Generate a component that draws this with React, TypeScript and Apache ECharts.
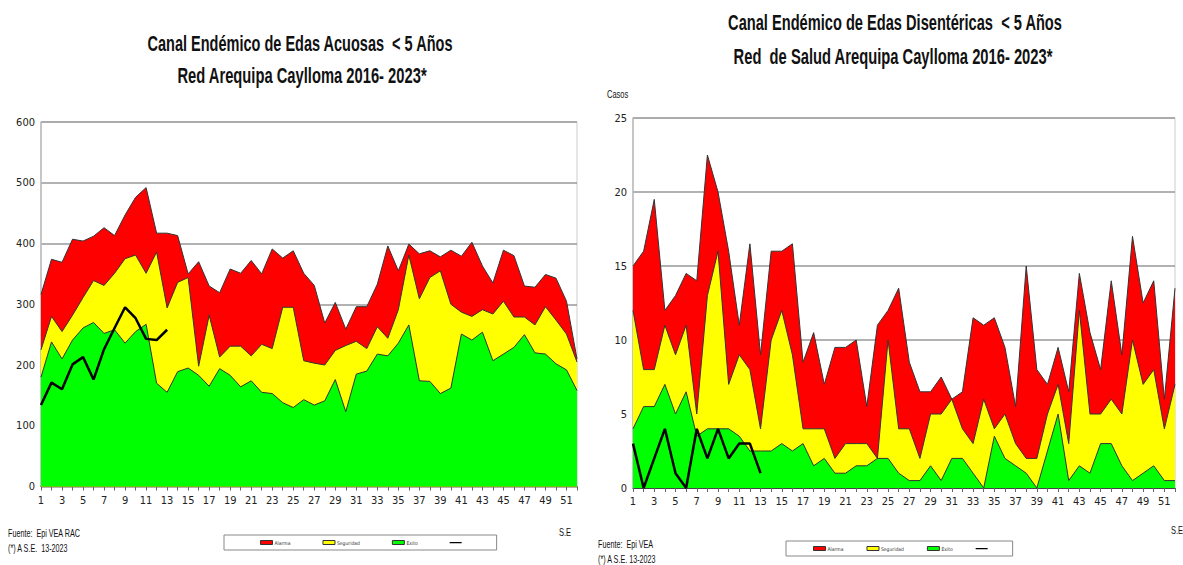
import React, { useEffect, useRef } from "react";
import * as echarts from "echarts";

const weeks: string[] = Array.from({ length: 52 }, (_, i) => String(i + 1));

// Left chart: EDAs Acuosas
const alarmaA = [316,374,369,407,404,412,426,413,447,476,492,417,417,413,350,370,330,319,358,351,372,350,391,376,388,351,331,269,303,259,296,296,333,396,355,399,383,388,378,389,379,402,363,335,389,380,330,328,349,343,305,210];
const seguridadA = [225,280,255,282,311,339,331,351,375,381,351,386,294,336,344,198,282,213,231,231,215,234,227,295,295,207,203,200,224,232,239,227,263,244,291,381,309,344,355,300,287,280,291,284,305,279,279,266,296,274,251,205];
const exitoA = [180,238,210,241,261,270,252,258,236,255,267,170,155,189,195,183,165,194,183,164,174,155,153,138,130,143,134,141,176,123,185,190,218,215,236,266,174,173,153,162,251,241,254,207,218,229,250,220,218,202,192,158];
const actualA = [134,171,160,201,213,176,226,261,295,277,243,241,258];

// Right chart: EDAs Disentéricas
const alarmaB = [15,16,19.5,12,13,14.5,14,22.5,20,16,11,16.5,9,16,16,16.5,8.5,10.5,7,9.5,9.5,10,5.5,11,12,13.5,8.5,6.5,6.5,7.5,6,6.5,11.5,11,11.5,9.5,5.5,15,8,7,9.5,6.5,14.5,10.5,8,14,9,17,12.5,14,6,13.5];
const seguridadB = [12,8,8,11,9,11,5,13,16,7,9,8,4,10,12,9,4,4,4,2,3,3,3,2,10,4,4,2,5,5,6,4,3,6,4,5,3,2,2,5,7,3,12,5,5,6,5,10,7,8,4,7];
const exitoB = [4,5.5,5.5,7,5,6.5,3.5,4,4,4,3.5,2.5,2.5,2.5,3,2.5,3,1.5,2,1,1,1.5,1.5,2,2,1,0.5,0.5,1.5,0.5,2,2,1,0,3.5,2,1.5,1,0,2.5,5,0.5,1.5,1,3,3,1.5,0.5,1,1.5,0.5,0.5];
const actualB = [3,0,2,4,1,0,4,2,4,2,3,3,1];

const yTicksA = { min: 0, max: 600, interval: 100 };
const yTicksB = { min: 0, max: 25, interval: 5 };

const NARROW = "'DejaVu Sans Condensed', sans-serif";
const ARIAL = "'Liberation Sans', Arial, sans-serif";
const RED = "#ff0000";
const YELLOW = "#ffff00";
const GREEN = "#00ff00";

function areaSeries(name: string, data: number[], color: string, idx: number) {
  return {
    name,
    type: "line",
    xAxisIndex: idx,
    yAxisIndex: idx,
    data,
    symbol: "none",
    itemStyle: { color },
    lineStyle: { color: "#333", width: 1 },
    areaStyle: { color, opacity: 1 },
  };
}

function lineSeries(data: number[], idx: number) {
  return {
    name: "2023",
    type: "line",
    xAxisIndex: idx,
    yAxisIndex: idx,
    data,
    symbol: "none",
    itemStyle: { color: "#000" },
    lineStyle: { color: "#000", width: 2.5 },
    z: 5,
  };
}

function xAxis(gridIndex: number) {
  return {
    type: "category",
    gridIndex,
    data: weeks,
    boundaryGap: false,
    axisLine: { lineStyle: { color: "#444", width: 1 } },
    axisTick: { show: true, interval: 0, length: 4, lineStyle: { color: "#666" } },
    axisLabel: { interval: 1, fontSize: 11, color: "#222", fontFamily: NARROW, margin: 8 },
    splitLine: { show: false },
  };
}

function yAxis(gridIndex: number, t: { min: number; max: number; interval: number }) {
  return {
    type: "value",
    gridIndex,
    min: t.min,
    max: t.max,
    interval: t.interval,
    axisLine: { show: true, lineStyle: { color: "#bbb", width: 1.5 } },
    axisTick: { show: false },
    axisLabel: { fontSize: 11, color: "#222", fontFamily: NARROW, margin: 6 },
    splitLine: { show: true, lineStyle: { color: "#999", width: 1.5 } },
  };
}

const LINE_ICON = "path://M0,0L12,0L12,0.01L0,0.01Z M0,1.5L12,1.5L12,2.7L0,2.7Z M0,4L12,4L12,4.01L0,4.01Z";

function legendData() {
  return [
    { name: "Alarma", icon: "rect", itemStyle: { color: RED, borderColor: "#333", borderWidth: 1 } },
    { name: "Seguridad", icon: "rect", itemStyle: { color: YELLOW, borderColor: "#333", borderWidth: 1 } },
    { name: "Exito", icon: "rect", itemStyle: { color: GREEN, borderColor: "#333", borderWidth: 1 } },
    { name: "2023", icon: LINE_ICON, itemStyle: { color: "#000", borderWidth: 0 } },
  ];
}

function legend(left: number, top: number, padding: number[], itemGap: number) {
  return {
    left,
    top,
    orient: "horizontal",
    padding,
    itemGap,
    itemWidth: 12,
    itemHeight: 4,
    borderColor: "#888",
    borderWidth: 1,
    selectedMode: false,
    data: legendData(),
    formatter: (n: string) => (n === "2023" ? "" : n),
    textStyle: { fontSize: 5, color: "#333", fontFamily: NARROW, padding: [0, 0, 0, -3] },
  };
}

function text(x: number, y: number, t: string, size: number, opts: any = {}, scaleX = 1) {
  return {
    type: "text",
    x,
    y,
    scaleX,
    style: {
      text: t,
      fontSize: size,
      fontFamily: ARIAL,
      fill: "#111",
      textVerticalAlign: "middle",
      ...opts,
    },
  };
}

const bold = { fontWeight: "bold", textAlign: "center" };

export default function App() {
  const ref = useRef<HTMLDivElement>(null);
  useEffect(() => {
    if (!ref.current) return;
    const chart = echarts.init(ref.current, null, { renderer: "svg" });
    chart.setOption({
      animation: false,
      backgroundColor: "#fff",
      grid: [
        { left: 41, top: 122, width: 536, height: 364.5, show: true, borderColor: "#ccc", borderWidth: 1 },
        { left: 633, top: 118, width: 542, height: 370, show: true, borderColor: "#ccc", borderWidth: 1 },
      ],
      xAxis: [xAxis(0), xAxis(1)],
      yAxis: [yAxis(0, yTicksA), yAxis(1, yTicksB)],
      legend: [legend(224, 535, [5, 35, 5, 36], 32), legend(786, 541, [5, 25, 5, 27], 23)],
      series: [
        areaSeries("Alarma", alarmaA, RED, 0),
        areaSeries("Seguridad", seguridadA, YELLOW, 0),
        areaSeries("Exito", exitoA, GREEN, 0),
        lineSeries(actualA, 0),
        areaSeries("Alarma", alarmaB, RED, 1),
        areaSeries("Seguridad", seguridadB, YELLOW, 1),
        areaSeries("Exito", exitoB, GREEN, 1),
        lineSeries(actualB, 1),
      ],
      graphic: [
        text(300, 43, "Canal Endémico de Edas Acuosas  < 5 Años", 22, bold, 0.66),
        text(302, 75, "Red Arequipa Caylloma 2016- 2023*", 22, bold, 0.67),
        text(895, 22, "Canal Endémico de Edas Disentéricas  < 5 Años", 22, bold, 0.665),
        text(893, 56, "Red  de Salud Arequipa Caylloma 2016- 2023*", 22, bold, 0.67),
        text(607, 95, "Casos", 10, {}, 0.75),
        text(8, 534, "Fuente:  Epi VEA RAC", 10, {}, 0.72),
        text(8, 549, "(*) A S.E.  13-2023", 10, {}, 0.72),
        text(559, 533, "S.E", 10, {}, 0.75),
        text(598, 545, "Fuente:  Epi VEA", 10, {}, 0.72),
        text(598, 560, "(*) A S.E. 13-2023", 10, {}, 0.72),
        text(1171, 531, "S.E", 10, {}, 0.75),
      ],
    });
    return () => chart.dispose();
  }, []);
  return <div ref={ref} style={{ position: "fixed", left: 0, top: 0, width: 1183, height: 565 }} />;
}
